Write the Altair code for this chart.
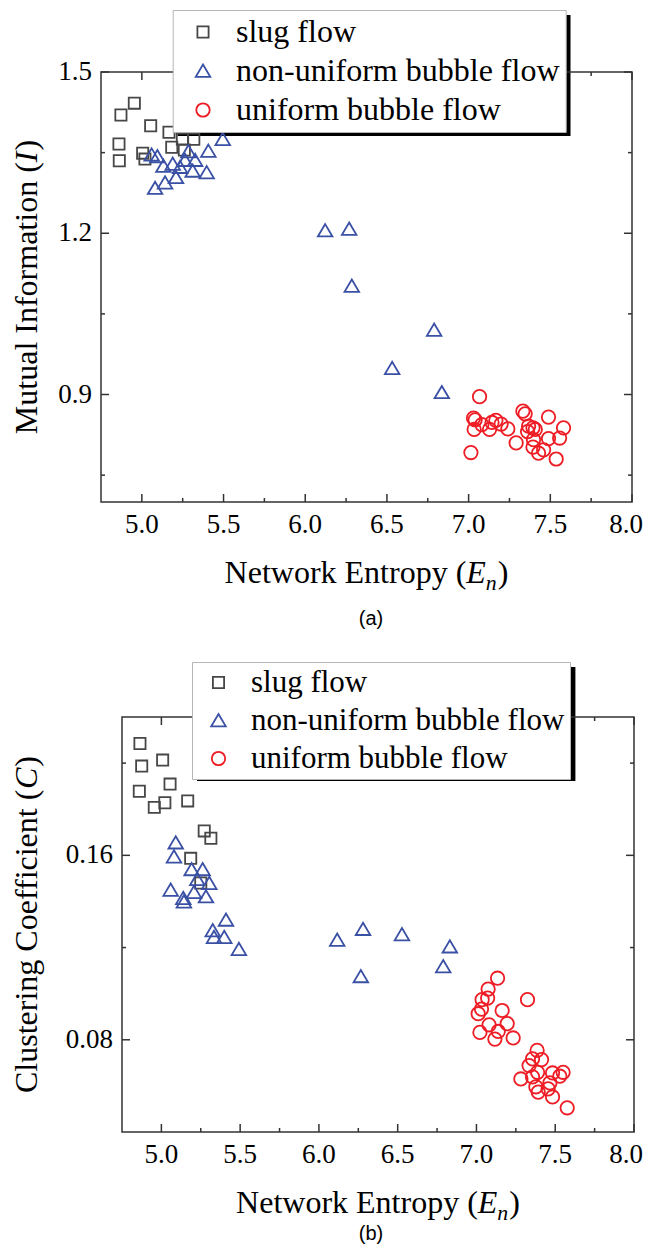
import altair as alt
import pandas as pd

categories = ["slug flow", "non-uniform bubble flow", "uniform bubble flow"]
colors = ["#474747", "#3a50a5", "#ee1c24"]

# ---------- panel (a): Mutual Information vs Network Entropy ----------
slug_x_a = [4.872, 4.954, 5.054, 5.166, 4.860, 4.862, 5.005, 5.019, 5.183, 5.248, 5.318, 5.26]
slug_y_a = [1.420, 1.442, 1.400, 1.388, 1.366, 1.335, 1.349, 1.338, 1.360, 1.375, 1.375, 1.355]
nonuni_x_a = [5.060, 5.095, 5.132, 5.081, 5.142, 5.209, 5.189, 5.234, 5.264, 5.285, 5.326,
              5.311, 5.397, 5.407, 5.495, 6.122, 6.269, 6.285, 6.789, 6.532, 6.836]
nonuni_y_a = [1.346, 1.343, 1.325, 1.284, 1.294, 1.304, 1.329, 1.323, 1.336, 1.352, 1.336,
              1.316, 1.313, 1.353, 1.375, 1.205, 1.208, 1.102, 1.020, 0.949, 0.904]
uni_x_a = [7.067, 7.030, 7.040, 7.034, 7.081, 7.128, 7.143, 7.167, 7.199, 7.240, 7.014, 7.291,
           7.332, 7.346, 7.367, 7.361, 7.394, 7.408, 7.489, 7.581, 7.557, 7.489, 7.397, 7.394,
           7.428, 7.459, 7.536]
uni_y_a = [0.896, 0.856, 0.853, 0.835, 0.844, 0.835, 0.848, 0.852, 0.845, 0.836, 0.792, 0.810,
           0.869, 0.864, 0.841, 0.831, 0.838, 0.835, 0.858, 0.838, 0.819, 0.818, 0.816, 0.802,
           0.791, 0.797, 0.780]

# ---------- panel (b): Clustering Coefficient vs Network Entropy ----------
slug_x_b = [4.864, 4.875, 5.008, 4.860, 5.055, 4.955, 5.022, 5.167, 5.272, 5.314, 5.186, 5.25]
slug_y_b = [0.2085, 0.1987, 0.2013, 0.1878, 0.1909, 0.1808, 0.1828, 0.1836, 0.1706, 0.1674,
            0.1587, 0.148]
nonuni_x_b = [5.091, 5.080, 5.192, 5.262, 5.228, 5.304, 5.059, 5.207, 5.283, 5.139, 5.143,
              5.410, 5.326, 5.334, 5.399, 5.492, 6.116, 6.28, 6.527, 6.831, 6.789, 6.266]
nonuni_y_b = [0.1655, 0.1594, 0.1539, 0.1539, 0.1496, 0.1479, 0.1450, 0.1440, 0.1421, 0.1414,
              0.1399, 0.1320, 0.1274, 0.1245, 0.1245, 0.1193, 0.1233, 0.128, 0.1257, 0.1204,
              0.1118, 0.1075]
uni_x_b = [7.134, 7.074, 7.071, 7.036, 7.032, 7.011, 7.324, 7.163, 7.080, 7.195, 7.138, 7.022,
           7.117, 7.233, 7.385, 7.356, 7.413, 7.334, 7.388, 7.356, 7.483, 7.550, 7.529, 7.282,
           7.377, 7.392, 7.455, 7.466, 7.483, 7.576]
uni_y_b = [0.1067, 0.1020, 0.0981, 0.0974, 0.0933, 0.0913, 0.0974, 0.0927, 0.0865, 0.0870,
           0.0836, 0.0832, 0.0803, 0.0808, 0.0754, 0.0717, 0.0714, 0.0688, 0.0659, 0.0639,
           0.0656, 0.0659, 0.0642, 0.0630, 0.0596, 0.0573, 0.0587, 0.0613, 0.0552, 0.0505]

# ---------- axes: values and tick labels ----------
x_domain = [4.75, 8.0]
x_major = [5.0, 5.5, 6.0, 6.5, 7.0, 7.5, 8.0]
x_labels = ["5.0", "5.5", "6.0", "6.5", "7.0", "7.5", "8.0"]
x_minor = [5.25, 5.75, 6.25, 6.75, 7.25, 7.75]
y_domain_a = [0.7, 1.5]
y_major_a = [0.9, 1.2, 1.5]
y_labels_a = ["0.9", "1.2", "1.5"]
y_minor_a = [0.75, 1.05, 1.35]
y_domain_b = [0.04, 0.22]
y_major_b = [0.08, 0.16]
y_labels_b = ["0.08", "0.16"]
y_minor_b = [0.12, 0.20]

SQUARE = "M-1,-1L1,-1L1,1L-1,1Z"
TRI = "M0,-1.15L1.3,1.05L-1.3,1.05Z"
CIRC = "M1.2,0A1.2,1.2,0,1,1,-1.2,0A1.2,1.2,0,1,1,1.2,0Z"
shapes = [SQUARE, TRI, CIRC]

FONT = "Liberation Serif"
FRAME = "#333333"

REG = {' ': 250, '(': 333, ')': 333, 'M': 889, 'u': 500, 't': 278, 'a': 444, 'l': 278,
       'I': 333, 'n': 500, 'f': 333, 'o': 500, 'r': 333, 'm': 778, 'i': 278, 'N': 722,
       'e': 444, 'w': 722, 'k': 500, 'E': 611, 'p': 500, 'y': 500, 'C': 667, 's': 389,
       'g': 500, 'c': 444}
ITA = {'E': 611, 'n': 500, 'I': 333, 'C': 667}


def tw(s, table, size):
    return sum(table.get(c, 500) for c in s) / 1000.0 * size


dummy = pd.DataFrame({"d": [0]})

# whole drawing area (pixels): both panels live in one view
VW, VH = 533, 1060


def text_piece(s, x, y, fs, italic=False, angle=None, font=FONT, align="left",
               baseline="alphabetic"):
    kw = dict(text=s, font=font, fontSize=fs, align=align, baseline=baseline, color="black",
              fontStyle="italic" if italic else "normal")
    if angle is not None:
        kw["angle"] = angle
    return alt.Chart(dummy).mark_text(**kw).encode(x=alt.value(x), y=alt.value(y))


def x_title(cx, base_y, fs):
    p1 = "Network Entropy ("
    w1 = tw(p1, REG, fs)
    wE = tw("E", ITA, fs)
    fs2 = fs * 0.68
    wn = tw("n", ITA, fs2)
    wp = tw(")", REG, fs)
    total = w1 + wE + wn + wp + 1
    x0 = cx - total / 2
    return [text_piece(p1, x0, base_y, fs),
            text_piece("E", x0 + w1, base_y, fs, italic=True),
            text_piece("n", x0 + w1 + wE, base_y + 7, fs2, italic=True),
            text_piece(")", x0 + w1 + wE + wn + 1, base_y, fs)]


def y_title(base_x, cy, fs, main, sym):
    p1 = main + " ("
    w1 = tw(p1, REG, fs)
    ws = tw(sym, ITA, fs)
    wp = tw(")", REG, fs)
    total = w1 + ws + wp + 1
    y0 = cy + total / 2
    return [text_piece(p1, base_x, y0, fs, angle=270),
            text_piece(sym, base_x, y0 - w1, fs, italic=True, angle=270),
            text_piece(")", base_x, y0 - w1 - ws - 1, fs, angle=270)]


def panel_layers(sx, sy, nx, ny, ux, uy, x0, x1, y0, y1, ydom, ymaj, ylabs, ymin,
                 leg, shadow, ytitle, ysym, ytitle_x, xtitle_base, letter, letter_xy, last_dx):
    xs = alt.Scale(domain=x_domain, range=[x0, x1], nice=False, zero=False)
    ys = alt.Scale(domain=ydom, range=[y1, y0], nice=False, zero=False)
    df = pd.DataFrame({
        "x": sx + nx + ux,
        "y": sy + ny + uy,
        "flow": [categories[0]] * len(sx) + [categories[1]] * len(nx) + [categories[2]] * len(ux),
    })
    legend = alt.Legend(title=None, orient="none", legendX=leg["x"], legendY=leg["y"],
                        labelFont=FONT, labelFontSize=leg["fs"], labelColor="black",
                        symbolSize=125, symbolStrokeWidth=1.8, symbolOffset=leg["so"],
                        labelOffset=leg["lo"], padding=leg["pad"], rowPadding=leg["rp"],
                        fillColor="white", strokeColor="#b5b5b5", labelLimit=600)
    L = []
    # legend shadow
    L.append(alt.Chart(dummy).mark_rect(color="black").encode(
        x=alt.value(shadow[0]), x2=alt.value(shadow[1]),
        y=alt.value(shadow[2]), y2=alt.value(shadow[3])))
    # frame
    L.append(alt.Chart(dummy).mark_rect(fillOpacity=0, stroke=FRAME, strokeWidth=1.5).encode(
        x=alt.value(x0), x2=alt.value(x1), y=alt.value(y0), y2=alt.value(y1)))

    # inward ticks on all four sides
    def xt(vals, ln):
        d = pd.DataFrame({"v": vals})
        b = alt.Chart(d).mark_rule(color=FRAME, strokeWidth=1.5)
        xe = alt.X("v:Q", scale=xs, axis=None)
        return [b.encode(x=xe, y=alt.value(y1), y2=alt.value(y1 - ln)),
                b.encode(x=xe, y=alt.value(y0), y2=alt.value(y0 + ln))]

    def yt(vals, ln):
        d = pd.DataFrame({"v": vals})
        b = alt.Chart(d).mark_rule(color=FRAME, strokeWidth=1.5)
        ye = alt.Y("v:Q", scale=ys, axis=None)
        return [b.encode(y=ye, x=alt.value(x0), x2=alt.value(x0 + ln)),
                b.encode(y=ye, x=alt.value(x1), x2=alt.value(x1 - ln))]

    L += xt(x_major, 8) + xt(x_minor, 4) + yt(ymaj, 8) + yt(ymin, 4)

    # tick labels (the last one nudged so it stays inside the page)
    L.append(alt.Chart(pd.DataFrame({"v": x_major[:-1], "lab": x_labels[:-1]})).mark_text(
        font=FONT, fontSize=27, align="center", baseline="middle", color="black").encode(
        x=alt.X("v:Q", scale=xs, axis=None), y=alt.value(y1 + 23), text="lab:N"))
    L.append(alt.Chart(pd.DataFrame({"v": x_major[-1:], "lab": x_labels[-1:]})).mark_text(
        font=FONT, fontSize=27, align="center", baseline="middle", color="black",
        dx=last_dx).encode(
        x=alt.X("v:Q", scale=xs, axis=None), y=alt.value(y1 + 23), text="lab:N"))
    L.append(alt.Chart(pd.DataFrame({"v": ymaj, "lab": ylabs})).mark_text(
        font=FONT, fontSize=27, align="right", baseline="middle", color="black").encode(
        y=alt.Y("v:Q", scale=ys, axis=None), x=alt.value(x0 - 9), text="lab:N"))

    # points
    L.append(alt.Chart(df).mark_point(filled=False, size=125, strokeWidth=1.8, opacity=1).encode(
        x=alt.X("x:Q", scale=xs, axis=None),
        y=alt.Y("y:Q", scale=ys, axis=None),
        color=alt.Color("flow:N", scale=alt.Scale(domain=categories, range=colors), legend=legend),
        shape=alt.Shape("flow:N", scale=alt.Scale(domain=categories, range=shapes), legend=legend),
    ))

    # titles
    L += x_title((x0 + x1) / 2, xtitle_base, 32)
    L += y_title(ytitle_x, (y0 + y1) / 2, 32, ytitle, ysym)
    L.append(text_piece(letter, letter_xy[0], letter_xy[1], 20, font="Liberation Sans",
                        align="center", baseline="middle"))
    return L


layers_a = panel_layers(slug_x_a, slug_y_a, nonuni_x_a, nonuni_y_a, uni_x_a, uni_y_a,
                        x0=0, x1=531, y0=0, y1=430, ydom=y_domain_a, ymaj=y_major_a,
                        ylabs=y_labels_a, ymin=y_minor_a,
                        leg={"x": 71.7, "y": -62, "fs": 32, "so": 8.3, "lo": 17, "pad": 6, "rp": 7},
                        shadow=[76.7, 469.5, -57, 64],
                        ytitle="Mutual Information", ysym="I", ytitle_x=-64.4,
                        xtitle_base=511.3, letter="(a)", letter_xy=(270, 546.7), last_dx=-6)

layers_b = panel_layers(slug_x_b, slug_y_b, nonuni_x_b, nonuni_y_b, uni_x_b, uni_y_b,
                        x0=21, x1=533, y0=645, y1=1060, ydom=y_domain_b, ymaj=y_major_b,
                        ylabs=y_labels_b, ymin=y_minor_b,
                        leg={"x": 91, "y": 590, "fs": 31, "so": 6, "lo": 17, "pad": 5, "rp": 6},
                        shadow=[96, 474.4, 595, 709],
                        ytitle="Clustering Coefficient", ysym="C", ytitle_x=-64.4,
                        xtitle_base=1141, letter="(b)", letter_xy=(270, 1162), last_dx=-8)

chart = alt.layer(*(layers_a + layers_b)).resolve_scale(
    x="independent", y="independent", color="independent", shape="independent"
).resolve_legend(color="independent", shape="independent").properties(
    width=VW, height=VH,
    autosize=alt.AutoSizeParams(type="none"),
    padding={"left": 93, "top": 64, "right": 10, "bottom": 116},
).configure_view(stroke=None)

chart.save("out.html", embed_options={"renderer": "svg", "actions": False})
